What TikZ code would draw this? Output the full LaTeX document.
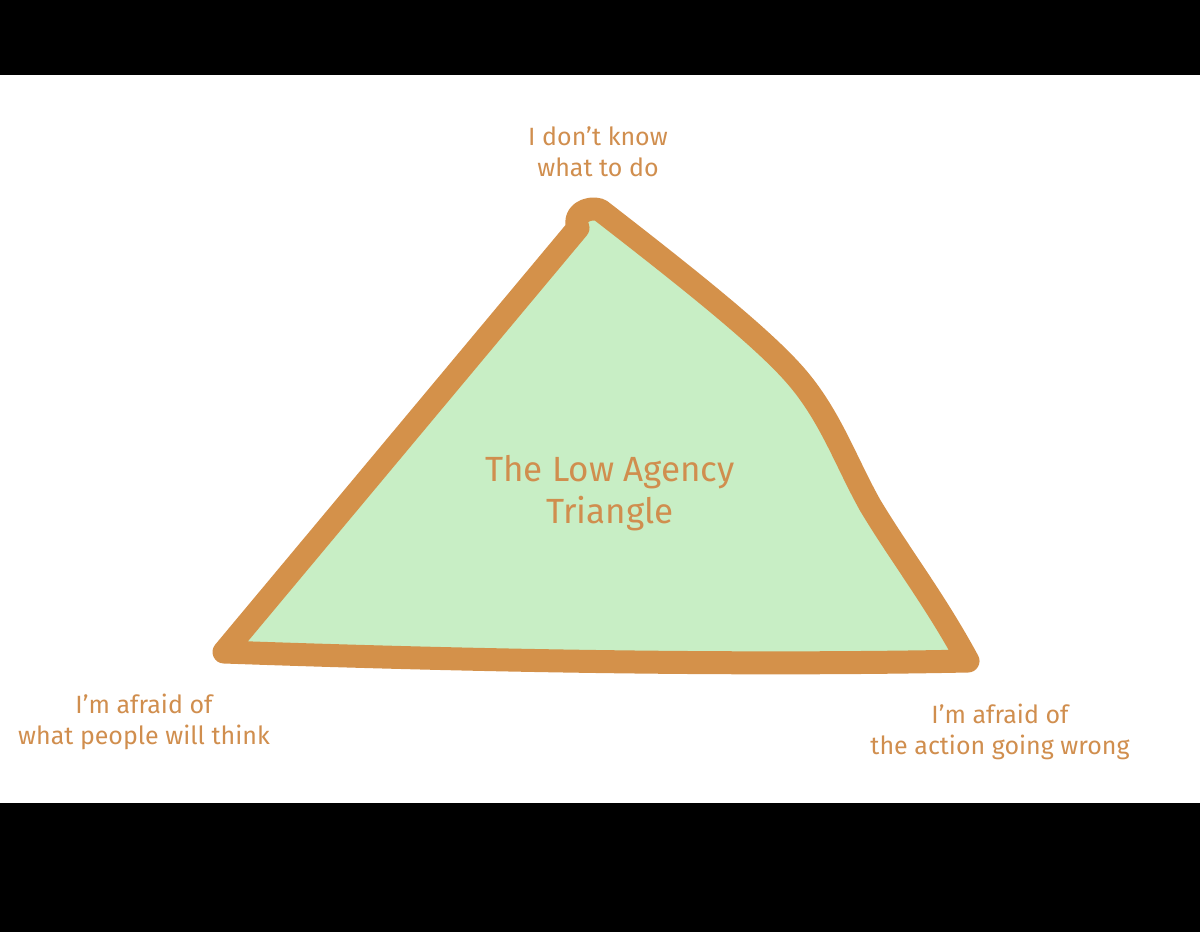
\documentclass[tikz,border=0pt]{standalone}
\usepackage{fontspec}
\setmainfont{Fira Sans}
\definecolor{edge}{HTML}{D4914A}
\definecolor{leaf}{HTML}{C8EEC5}
\definecolor{ink}{HTML}{D08E4E}
\tikzset{
  tri/.style={draw=edge, fill=leaf, line width=23pt, line join=round, line cap=round},
  lbl/.style={text=ink, align=center, font=\fontsize{25}{31}\selectfont},
  title/.style={text=ink, align=center, font=\fontsize{35}{42}\selectfont},
}
\begin{document}
\begin{tikzpicture}[x=1pt,y=-1pt]
\useasboundingbox (0,0) rectangle (1200,932);
\fill[black] (0,0) rectangle (1200,75);
\fill[black] (0,803) rectangle (1200,932);
\draw[tri] (224,652) -- (578,228)
  .. controls (572,214) and (588,206) .. (600,210)
  .. controls (680,272) and (760,335) .. (795,375)
  .. controls (830,415) and (845,460) .. (870,505)
  .. controls (900,555) and (935,600) .. (968,661)
  .. controls (720,666) and (450,660) .. (224,652) -- cycle;
\node[lbl] (top) at (598,152) {I don't know\\what to do};
\node[title] (mid) at (610,493) {The Low Agency\\Triangle};
\node[lbl] (left) at (144,722) {I'm afraid of\\what people will think};
\node[lbl] (right) at (1000,732) {I'm afraid of\\the action going wrong};
\end{tikzpicture}
\end{document}
